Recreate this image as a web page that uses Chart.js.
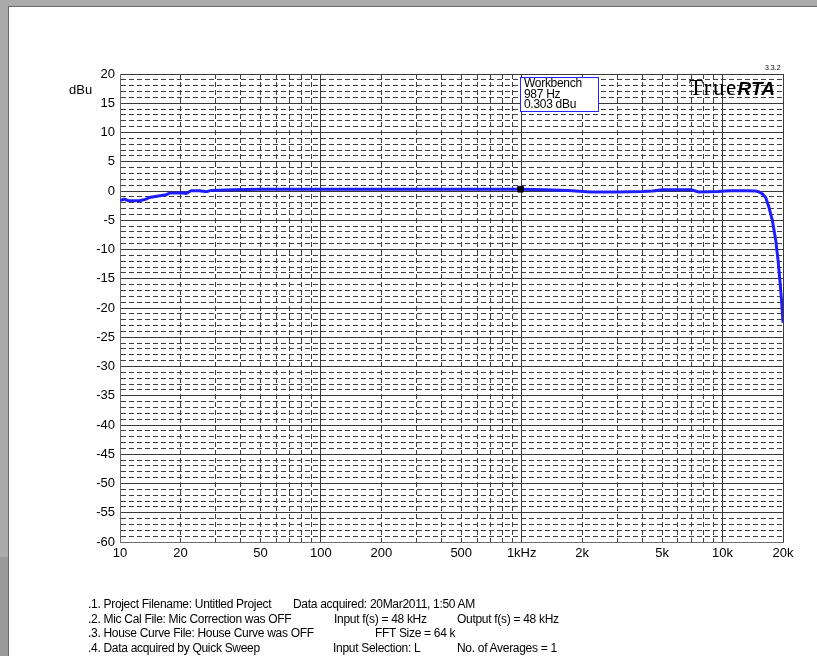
<!DOCTYPE html>
<html><head><meta charset="utf-8">
<script src="https://cdn.jsdelivr.net/npm/chart.js@4.4.0/dist/chart.umd.min.js"></script>
<style>
html,body{margin:0;padding:0;background:#ababab;width:817px;height:656px;overflow:hidden;position:relative;}
#page{position:absolute;left:8px;top:6px;width:809px;height:650px;background:#fff;border-left:1px solid #6a6a6a;border-top:1px solid #6a6a6a;}
#strip{position:absolute;left:0;top:557px;width:8px;height:99px;background:#9a9a9a;}
#c{position:absolute;left:0;top:0;}
.t{position:absolute;font-family:"Liberation Sans",Arial,sans-serif;color:#000;white-space:pre;z-index:3;}
.b{font-size:12px;line-height:14px;letter-spacing:-0.3px;}
#box{position:absolute;left:520px;top:77px;width:77px;height:33px;border:1px solid #2323ff;background:#fff;z-index:2;}
</style></head>
<body>
<div id="page"></div>
<div id="strip"></div>
<canvas id="c" width="817" height="656"></canvas>
<div class="t" style="left:69px;top:82px;font-size:13px;line-height:15px;">dBu</div>
<div id="box"></div>
<div class="t" style="left:524px;top:78px;font-size:12px;line-height:10.5px;letter-spacing:-0.3px;">Workbench
987 Hz
0.303 dBu</div>
<div class="t" style="left:689px;top:76px;line-height:23px;"><span style="font-family:'Liberation Serif','Times New Roman',serif;font-size:23px;letter-spacing:1.5px;">True</span><span style="font-family:'Liberation Sans',Arial,sans-serif;font-size:19px;font-weight:bold;font-style:italic;">RTA</span></div>
<div class="t" style="left:765px;top:64px;font-size:7px;line-height:8px;">3.3.2</div>
<div class="t b" style="left:88px;top:597px;">.1. Project Filename: Untitled Project</div>
<div class="t b" style="left:293px;top:597px;">Data acquired: 20Mar2011, 1:50 AM</div>
<div class="t b" style="left:88px;top:612px;">.2. Mic Cal File: Mic Correction was OFF</div>
<div class="t b" style="left:334px;top:612px;">Input f(s) = 48 kHz</div>
<div class="t b" style="left:457px;top:612px;">Output f(s) = 48 kHz</div>
<div class="t b" style="left:88px;top:626px;">.3. House Curve File: House Curve was OFF</div>
<div class="t b" style="left:375px;top:626px;">FFT Size = 64 k</div>
<div class="t b" style="left:88px;top:641px;">.4. Data acquired by Quick Sweep</div>
<div class="t b" style="left:333px;top:641px;">Input Selection: L</div>
<div class="t b" style="left:457px;top:641px;">No. of Averages = 1</div>
<script>
const freqHz = [10, 10.5, 11, 12.5, 13.5, 14, 15.8, 17, 17.7, 19.4, 20.2, 21.4, 22.6, 24.9, 26.9, 28.5, 36.5, 50, 100, 200, 500, 987, 1300, 1700, 2200, 3000, 4000, 4500, 5000, 7000, 7600, 9500, 10800, 13000, 14600, 15200, 15800, 16400, 17000, 17700, 18400, 18900, 19300, 19700, 20000];
const levelDbu = [-1.66, -1.4, -1.66, -1.66, -1.4, -1.1, -0.8, -0.63, -0.34, -0.34, -0.3, -0.4, 0.05, 0.05, -0.12, 0.1, 0.22, 0.3, 0.3, 0.3, 0.3, 0.303, 0.2, 0.1, -0.15, -0.17, -0.1, 0.0, 0.22, 0.22, -0.15, -0.1, 0.05, 0.05, 0.0, -0.15, -0.5, -1.1, -2.7, -5, -8.4, -11.8, -15.3, -19, -22.5];
const markerFreq = [987];
const markerLevel = [0.303];
const xTickValues = [10,20,30,40,50,60,70,80,90,100,200,300,400,500,600,700,800,900,1000,2000,3000,4000,5000,6000,7000,8000,9000,10000,20000];
const xMajorValues = [10,100,1000,10000,20000];
const xLabelValues = [10,20,50,100,200,500,1000,2000,5000,10000,20000];
const xLabelTexts = ['10','20','50','100','200','500','1kHz','2k','5k','10k','20k'];
const yMin = -60, yMax = 20;
const yTickValues = [];
for (let v = yMin; v <= yMax; v++) yTickValues.push(v);

const solid = '#3a3a3a', dashed = '#404040';
const isMajorX = v => xMajorValues.includes(v);
const isMajorY = v => v % 5 === 0;

new Chart(document.getElementById('c'), {
  type: 'line',
  data: {
    datasets: [
      {data: markerFreq.map((f,i)=>({x:f, y:markerLevel[i]})), showLine:false, pointStyle:'rect', pointRadius:4, backgroundColor:'#000', borderColor:'#000', borderWidth:1, order:0},
      {data: freqHz.map((f,i)=>({x:f, y:levelDbu[i]})), borderColor:'#1e1eff', borderWidth:3, pointRadius:0, tension:0, fill:false, order:1}
    ]
  },
  options: {
    responsive:false, animation:false, devicePixelRatio:1,
    layout:{padding:{left:0, top:74, right:34, bottom:84}},
    plugins:{legend:{display:false}, tooltip:{enabled:false}},
    scales:{
      x:{type:'logarithmic', min:10, max:20000,
        afterBuildTicks:s=>{s.ticks = xTickValues.map(v=>({value:v}));},
        afterFit:s=>{s.height = 30;},
        ticks:{autoSkip:false, maxRotation:0, minRotation:0, padding:4, color:'#000', font:{family:'Liberation Sans', size:13},
          callback:v=>{const i = xLabelValues.indexOf(v); return i>=0 ? xLabelTexts[i] : '';}},
        grid:{drawTicks:false, lineWidth:1, color:c=> (c.tick && isMajorX(c.tick.value)) ? solid : dashed},
        border:{display:true, color:'#6a6a6a', width:1, dash:c=> (c.tick && !isMajorX(c.tick.value)) ? [5,3] : []}
      },
      y:{type:'linear', min:yMin, max:yMax,
        afterBuildTicks:s=>{s.ticks = yTickValues.map(v=>({value:v}));},
        afterFit:s=>{s.width = 120;},
        ticks:{autoSkip:false, padding:5, color:'#000', font:{family:'Liberation Sans', size:13},
          callback:v=> isMajorY(v) ? String(v) : ''},
        grid:{drawTicks:false, lineWidth:1, color:c=> (c.tick && isMajorY(c.tick.value)) ? solid : dashed},
        border:{display:true, color:'#6a6a6a', width:1, dash:c=> (c.tick && !isMajorY(c.tick.value)) ? [5,3] : []}
      }
    }
  }
});
</script>
</body></html>
